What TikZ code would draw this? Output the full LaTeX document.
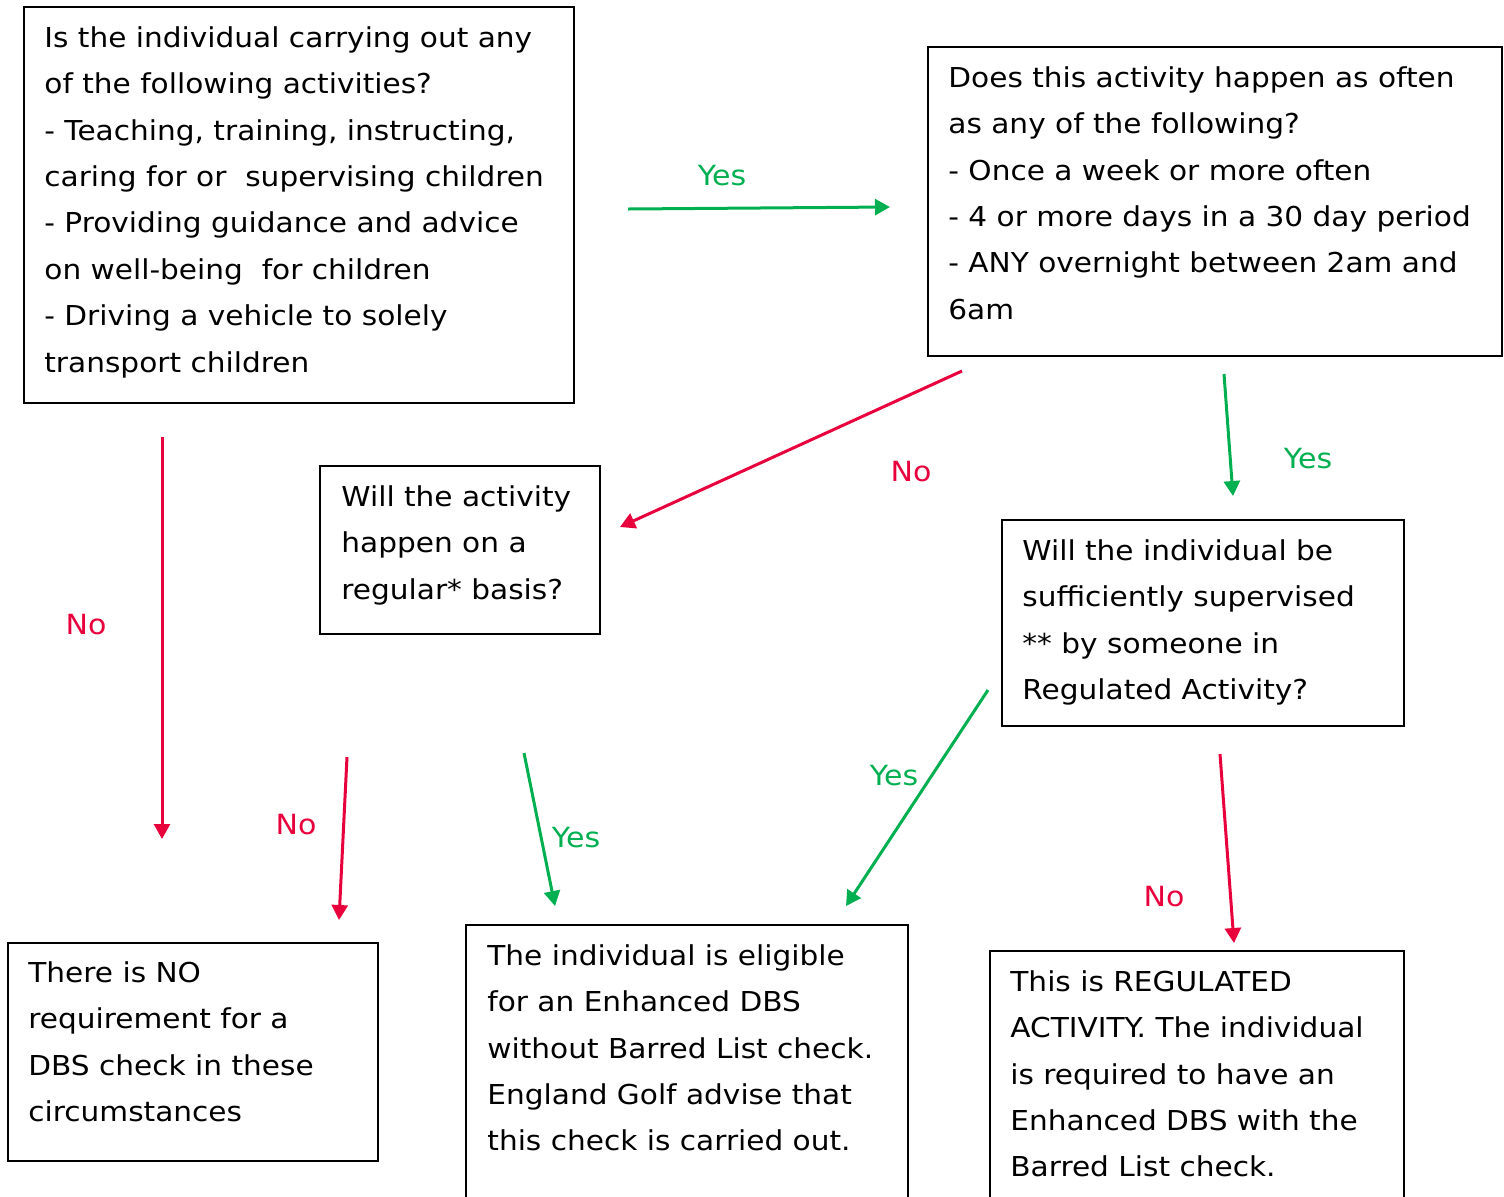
\documentclass[tikz,border=0pt]{standalone}
\usepackage{fontspec}
\setmainfont{DejaVu Sans}[FakeStretch=1.08]
\usetikzlibrary{arrows.meta}
\definecolor{yesgreen}{HTML}{00B050}
\definecolor{nored}{HTML}{E8003D}
\begin{document}
\begin{tikzpicture}[x=0.5pt,y=-0.5pt,
  box/.style={draw=black,line width=1pt,anchor=north west,inner sep=0pt,outer sep=0pt},
  txt/.style={anchor=north west,inner sep=0pt,align=left,font=\fontsize{13.7}{23.2}\selectfont},
  lbl/.style={inner sep=0pt,font=\fontsize{13.9}{15}\selectfont},
  yesarrow/.style={draw=yesgreen,line width=1.5pt,-{Triangle[length=7.5pt,width=8pt]}},
  noarrow/.style={draw=nored,line width=1.5pt,-{Triangle[length=7.5pt,width=8pt]}}
]
\clip (0,0) rectangle (1504,1196);
\fill[white] (0,0) rectangle (1504,1196);

% boxes
\node[box,minimum width=275pt,minimum height=198pt] (bA) at (24,7) {};
\node[box,minimum width=287pt,minimum height=154.5pt] (bB) at (928,47) {};
\node[box,minimum width=140pt,minimum height=84pt] (bC) at (320,466) {};
\node[box,minimum width=201pt,minimum height=103pt] (bD) at (1002,520) {};
\node[box,minimum width=185pt,minimum height=109pt] (bE) at (8,943) {};
\node[box,minimum width=221pt,minimum height=142.5pt] (bF) at (466,925) {};
\node[box,minimum width=207pt,minimum height=129.5pt] (bG) at (990,951) {};

% texts
\node[txt] (tA) at (44,26) {Is the individual carrying out any\\of the following activities?\\- Teaching, training, instructing,\\caring for or\ \ supervising children\\- Providing guidance and advice\\on well-being\ \ for children\\- Driving a vehicle to solely\\transport children};
\node[txt] (tB) at (948,66) {Does this activity happen as often\\as any of the following?\\- Once a week or more often\\- 4 or more days in a 30 day period\\- ANY overnight between 2am and\\6am};
\node[txt] (tC) at (341,485) {Will the activity\\happen on a\\regular* basis?};
\node[txt] (tD) at (1022,539) {Will the individual be\\sufficiently supervised\\** by someone in\\Regulated Activity?};
\node[txt] (tE) at (28,961) {There is NO\\requirement for a\\DBS check in these\\circumstances};
\node[txt] (tF) at (487,944) {The individual is eligible\\for an Enhanced DBS\\without Barred List check.\\England Golf advise that\\this check is carried out.};
\node[txt] (tG) at (1010,970) {This is REGULATED\\ACTIVITY. The individual\\is required to have an\\Enhanced DBS with the\\Barred List check.};

% arrow end points
\coordinate (a1s) at (628,209); \coordinate (a1e) at (890,207);
\coordinate (a2s) at (962,371); \coordinate (a2e) at (620,527);
\coordinate (a3s) at (1224,374); \coordinate (a3e) at (1233,496);
\coordinate (a4s) at (162,437); \coordinate (a4e) at (162,839);
\coordinate (a5s) at (347,757); \coordinate (a5e) at (339,920);
\coordinate (a6s) at (524,753); \coordinate (a6e) at (555,906);
\coordinate (a7s) at (988,690); \coordinate (a7e) at (846,906);
\coordinate (a8s) at (1220,754); \coordinate (a8e) at (1234,943);

\draw[yesarrow] (a1s) -- (a1e);
\draw[noarrow] (a2s) -- (a2e);
\draw[yesarrow] (a3s) -- (a3e);
\draw[noarrow] (a4s) -- (a4e);
\draw[noarrow] (a5s) -- (a5e);
\draw[yesarrow] (a6s) -- (a6e);
\draw[yesarrow] (a7s) -- (a7e);
\draw[noarrow] (a8s) -- (a8e);

% labels
\node[lbl,text=yesgreen] (l1) at (722,176) {Yes};
\node[lbl,text=nored] (l2) at (911,472) {No};
\node[lbl,text=yesgreen] (l3) at (1308,459) {Yes};
\node[lbl,text=nored] (l4) at (86,625) {No};
\node[lbl,text=nored] (l5) at (296,825) {No};
\node[lbl,text=yesgreen] (l6) at (576,838) {Yes};
\node[lbl,text=yesgreen] (l7) at (894,776) {Yes};
\node[lbl,text=nored] (l8) at (1164,897) {No};
\end{tikzpicture}
\end{document}
